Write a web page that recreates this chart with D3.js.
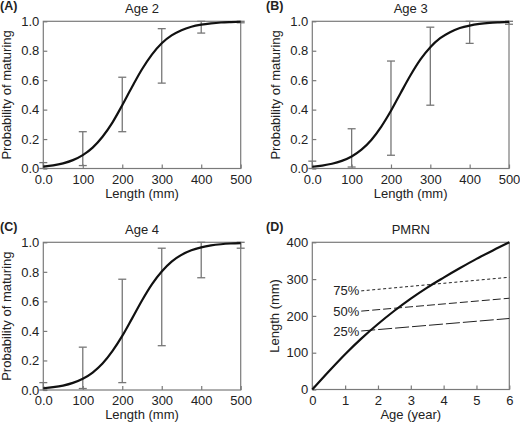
<!DOCTYPE html>
<html><head><meta charset="utf-8">
<script src="https://cdn.jsdelivr.net/npm/d3@7"></script>
<style>body{margin:0;background:#fff}svg{display:block}text{font-family:"Liberation Sans",Arial,sans-serif}</style>
</head><body><svg id="c" width="520" height="427"></svg>
<script>
// ---- data ----
const lengthTicks = [0, 100, 200, 300, 400, 500];
const lengthTickLabels = ["0.0", "100", "200", "300", "400", "500"];
const probTicks = [0, 0.2, 0.4, 0.6, 0.8, 1.0];
const curveLengths = [0, 25, 50, 75, 100, 125, 150, 175, 200, 225, 250, 275, 300, 325, 350, 375, 400, 425, 450, 475, 500];
const curveAge2 = [0.013, 0.021, 0.035, 0.057, 0.091, 0.142, 0.216, 0.312, 0.430, 0.555, 0.674, 0.774, 0.851, 0.904, 0.940, 0.963, 0.977, 0.986, 0.992, 0.995, 0.997];
const curveAge3 = [0.012, 0.020, 0.032, 0.052, 0.082, 0.128, 0.194, 0.283, 0.392, 0.515, 0.635, 0.741, 0.824, 0.885, 0.926, 0.954, 0.971, 0.982, 0.989, 0.993, 0.996];
const curveAge4 = [0.012, 0.019, 0.030, 0.048, 0.076, 0.118, 0.179, 0.263, 0.366, 0.485, 0.606, 0.715, 0.802, 0.869, 0.915, 0.946, 0.966, 0.979, 0.987, 0.992, 0.995];
const errLengths = [0, 100, 200, 300, 400, 500];
const errLowAge2 = [0.0, 0.02, 0.25, 0.58, 0.92, 0.99];
const errHighAge2 = [0.04, 0.25, 0.62, 0.95, 1.0, 1.0];
const errLowAge3 = [0.0, 0.01, 0.09, 0.43, 0.85, 0.98];
const errHighAge3 = [0.05, 0.27, 0.73, 0.96, 1.0, 1.0];
const errLowAge4 = [0.0, 0.01, 0.05, 0.30, 0.76, 0.96];
const errHighAge4 = [0.05, 0.29, 0.75, 0.96, 1.0, 1.0];
const ageTicks = [0, 1, 2, 3, 4, 5, 6];
const lenTicksD = [0, 100, 200, 300, 400];
const growthAge = [0, 0.5, 1, 1.5, 2, 2.5, 3, 3.5, 4, 4.5, 5, 5.5, 6];
const growthLength = [0, 49, 96, 139, 178, 214, 247, 277, 304, 330, 355, 378, 400];
const pmrnLabels = ["75%", "50%", "25%"];
const pmrnAge = [1.49, 6];
const pmrn75 = [268, 305];
const pmrn50 = [213, 248];
const pmrn25 = [159, 193];
const pmrnDash = ["3,2.5", "8,3", "14,3"];

const svg = d3.select("#c");
const frameCol = "#7a7a7a", textCol = "#222", errCol = "#777";

function panel(opt) {
  const g = svg.append("g");
  const x = d3.scaleLinear().domain(opt.xd).range([opt.x0, opt.x1]);
  const y = d3.scaleLinear().domain(opt.yd).range([opt.yb, opt.yt]);
  g.append("rect").attr("x", opt.x0).attr("y", opt.yt).attr("width", opt.x1 - opt.x0).attr("height", opt.yb - opt.yt)
    .attr("fill", "none").attr("stroke", frameCol).attr("stroke-width", 1.2);
  const ax = g.append("g").attr("transform", `translate(0,${opt.yb})`)
    .call(d3.axisBottom(x).tickValues(opt.xt).tickSizeInner(-4).tickSizeOuter(0).tickPadding(3)
      .tickFormat((d, i) => opt.xl[i]));
  const ay = g.append("g").attr("transform", `translate(${opt.x0},0)`)
    .call(d3.axisLeft(y).tickValues(opt.yt2).tickSizeInner(-4).tickSizeOuter(0).tickPadding(4)
      .tickFormat(opt.yf));
  [ax, ay].forEach(a => {
    a.select(".domain").remove();
    a.selectAll("line").attr("stroke", frameCol).attr("stroke-width", 1.2);
    a.selectAll("text").attr("font-size", 13).attr("fill", textCol)
      .attr("font-family", '"Liberation Sans",Arial,sans-serif');
  });
  ax.selectAll("text").attr("dy", "0.95em");
  g.append("text").attr("x", (opt.x0 + opt.x1) / 2).attr("y", opt.yb + 29).attr("text-anchor", "middle")
    .attr("font-size", 13).attr("fill", textCol).text(opt.xlab);
  g.append("text").attr("transform", `translate(${opt.ylx},${(opt.yt + opt.yb) / 2}) rotate(-90)`)
    .attr("text-anchor", "middle").attr("font-size", 13).attr("fill", textCol).text(opt.ylab);
  g.append("text").attr("x", (opt.x0 + opt.x1) / 2).attr("y", opt.yt - 8).attr("text-anchor", "middle")
    .attr("font-size", 13).attr("fill", textCol).text(opt.title);
  g.append("text").attr("x", opt.tagx).attr("y", opt.yt - 11).attr("font-size", 12.5).attr("font-weight", "bold")
    .attr("fill", textCol).text(opt.tag);
  return {g, x, y};
}

const probPanels = [
  {tag: "(A)", title: "Age 2", x0: 43.3, x1: 240.7, yt: 21.3, yb: 168.5, tagx: 0, curve: curveAge2, lo: errLowAge2, hi: errHighAge2},
  {tag: "(B)", title: "Age 3", x0: 312.3, x1: 509, yt: 21.3, yb: 168.5, tagx: 266, curve: curveAge3, lo: errLowAge3, hi: errHighAge3},
  {tag: "(C)", title: "Age 4", x0: 43.3, x1: 240.7, yt: 242.3, yb: 390, tagx: 0, curve: curveAge4, lo: errLowAge4, hi: errHighAge4}
];

probPanels.forEach(p => {
  const {g, x, y} = panel(Object.assign({}, p, {
    xd: [0, 500], yd: [0, 1], xt: lengthTicks, xl: lengthTickLabels, yt2: probTicks,
    yf: d3.format(".1f"), xlab: "Length (mm)", ylab: "Probability of maturing", ylx: p.x0 - 32
  }));
  errLengths.forEach((L, i) => {
    const cx = x(L), cw = 4;
    g.append("line").attr("x1", cx).attr("x2", cx).attr("y1", y(p.lo[i])).attr("y2", y(p.hi[i]))
      .attr("stroke", errCol).attr("stroke-width", 1.3);
    [p.lo[i], p.hi[i]].forEach(v => {
      g.append("line").attr("x1", cx - cw).attr("x2", cx + cw).attr("y1", y(v)).attr("y2", y(v))
        .attr("stroke", errCol).attr("stroke-width", 1.3);
    });
  });
  const line = d3.line().x((d, i) => x(curveLengths[i])).y(d => y(d)).curve(d3.curveMonotoneX);
  g.append("path").attr("d", line(p.curve)).attr("fill", "none").attr("stroke", "#111").attr("stroke-width", 2.2);
});

(() => {
  const p = {tag: "(D)", title: "PMRN", x0: 312.3, x1: 509.3, yt: 242.3, yb: 389.5, tagx: 266,
    xd: [0, 6], yd: [0, 400], xt: ageTicks, xl: ageTicks.map(String), yt2: lenTicksD, yf: d3.format("d"),
    xlab: "Age (year)", ylab: "Length (mm)", ylx: 312.3 - 33};
  const {g, x, y} = panel(p);
  [pmrn75, pmrn50, pmrn25].forEach((vals, k) => {
    g.append("line").attr("x1", x(pmrnAge[0])).attr("x2", x(pmrnAge[1])).attr("y1", y(vals[0])).attr("y2", y(vals[1]))
      .attr("stroke", "#222").attr("stroke-width", 1).attr("stroke-dasharray", pmrnDash[k]);
    g.append("text").attr("x", x(pmrnAge[0]) - 2).attr("y", y(vals[0])).attr("dy", "0.35em")
      .attr("text-anchor", "end").attr("font-size", 13).attr("fill", textCol).text(pmrnLabels[k]);
  });
  const line = d3.line().x((d, i) => x(growthAge[i])).y(d => y(d)).curve(d3.curveMonotoneX);
  g.append("path").attr("d", line(growthLength)).attr("fill", "none").attr("stroke", "#111").attr("stroke-width", 2.2);
})();
</script></body></html>
